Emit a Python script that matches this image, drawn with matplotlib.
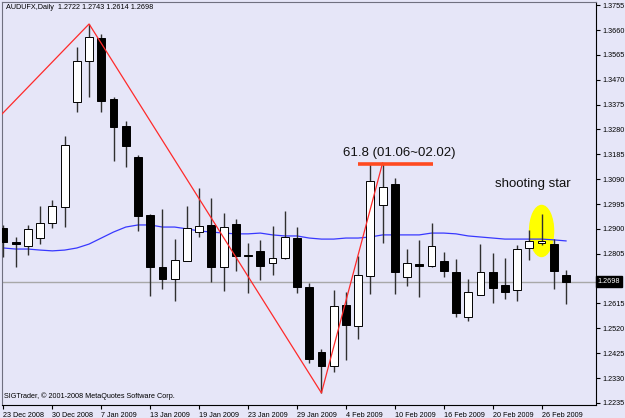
import matplotlib
matplotlib.use('Agg')
import matplotlib.pyplot as plt
from matplotlib.patches import Ellipse, Rectangle

plt.rcParams['font.family'] = ['Liberation Sans', 'DejaVu Sans']

# daily candles
opens  = [1.2904, 1.2850, 1.2835, 1.2865, 1.2923, 1.2984, 1.3385, 1.3541, 1.3629, 1.3396,
          1.3293, 1.3175, 1.2953, 1.2755, 1.2709, 1.2777, 1.2888, 1.2915, 1.2755, 1.2919,
          1.2800, 1.2816, 1.2770, 1.2789, 1.2865, 1.2678, 1.2430, 1.2376, 1.2609, 1.2529,
          1.2720, 1.2991, 1.3072, 1.2716, 1.2766, 1.2758, 1.2777, 1.2735, 1.2564, 1.2648,
          1.2735, 1.2686, 1.2667, 1.2827, 1.2846, 1.2842, 1.2722]
highs  = [1.2915, 1.2869, 1.2915, 1.2988, 1.3010, 1.3255, 1.3595, 1.3683, 1.3645, 1.3404,
          1.3312, 1.3182, 1.2957, 1.2976, 1.2861, 1.2988, 1.3056, 1.3018, 1.2961, 1.2938,
          1.2846, 1.2858, 1.2911, 1.2968, 1.2907, 1.2693, 1.2441, 1.2667, 1.2659, 1.2797,
          1.3148, 1.3152, 1.3095, 1.2823, 1.2858, 1.2923, 1.2812, 1.2785, 1.2709, 1.2842,
          1.2808, 1.2789, 1.2839, 1.2896, 1.2957, 1.2861, 1.2743]
lows   = [1.2793, 1.2755, 1.2800, 1.2842, 1.2904, 1.2907, 1.3347, 1.3404, 1.3347, 1.3159,
          1.3137, 1.2892, 1.2644, 1.2670, 1.2625, 1.2777, 1.2869, 1.2697, 1.2663, 1.2739,
          1.2655, 1.2705, 1.2724, 1.2785, 1.2655, 1.2388, 1.2273, 1.2353, 1.2399, 1.2479,
          1.2651, 1.2846, 1.2651, 1.2682, 1.2640, 1.2755, 1.2716, 1.2564, 1.2548, 1.2648,
          1.2617, 1.2632, 1.2625, 1.2781, 1.2839, 1.2670, 1.2614]
closes = [1.2850, 1.2842, 1.2900, 1.2923, 1.2988, 1.3221, 1.3541, 1.3633, 1.3389, 1.3289,
          1.3217, 1.2949, 1.2755, 1.2709, 1.2781, 1.2904, 1.2911, 1.2755, 1.2907, 1.2797,
          1.2797, 1.2758, 1.2789, 1.2869, 1.2678, 1.2403, 1.2376, 1.2606, 1.2533, 1.2724,
          1.3083, 1.3060, 1.2735, 1.2770, 1.2758, 1.2835, 1.2739, 1.2579, 1.2659, 1.2735,
          1.2674, 1.2659, 1.2823, 1.2854, 1.2854, 1.2739, 1.2698]
ma     = [1.2827, 1.2823, 1.2823, 1.2819, 1.2816, 1.2819, 1.2827, 1.2842, 1.2865, 1.2888,
          1.2907, 1.2915, 1.2915, 1.2907, 1.2907, 1.2900, 1.2892, 1.2888, 1.2884, 1.2881,
          1.2881, 1.2884, 1.2877, 1.2873, 1.2873, 1.2865, 1.2861, 1.2861, 1.2865, 1.2865,
          1.2869, 1.2877, 1.2877, 1.2877, 1.2877, 1.2884, 1.2884, 1.2881, 1.2873, 1.2869,
          1.2865, 1.2861, 1.2861, 1.2861, 1.2861, 1.2858, 1.2854]

date_idx    = [0, 4, 8, 12, 16, 20, 24, 28, 32, 36, 40, 44]
date_labels = ['23 Dec 2008', '30 Dec 2008', '7 Jan 2009', '13 Jan 2009', '19 Jan 2009',
               '23 Jan 2009', '29 Jan 2009', '4 Feb 2009', '10 Feb 2009', '16 Feb 2009',
               '20 Feb 2009', '26 Feb 2009']
price_ticks = [1.2235, 1.2330, 1.2425, 1.2520, 1.2615, 1.2710, 1.2805, 1.2900, 1.2995,
               1.3090, 1.3185, 1.3280, 1.3375, 1.3470, 1.3565, 1.3660, 1.3755]

zz_x = [-0.12, 7, 26, 31]
zz_y = [1.3339, 1.3683, 1.2273, 1.3152]
fib_level = 1.3148
fib_from, fib_to = 29.0, 35.1
last_price = 1.2698

BG = '#e6e6f8'
fig = plt.figure(figsize=(6.25, 4.18), dpi=100, facecolor=BG)
ax = fig.add_axes([2/625, 1 - 405/418, 594/625, 403/418], facecolor=BG)
ax.set_xlim(-0.12, 48.45)
ax.set_ylim(1.2227, 1.3767)

# yellow highlight behind the shooting star
ax.add_patch(Ellipse((44, 1.2892), 1.96, 0.0195, color='#ffff00', zorder=1))

ax.axhline(last_price, color='#a8a8a8', lw=1, zorder=1.5)
ax.plot(range(len(ma)), ma, color='#3838ff', lw=0.9, zorder=2)

w = 0.64
for i, (o, h, l, c) in enumerate(zip(opens, highs, lows, closes)):
    ax.plot([i, i], [l, h], color='#303030', lw=1, zorder=3, solid_capstyle='butt')
    bottom, top = min(o, c), max(o, c)
    fc = 'white' if c > o else 'black'
    ax.add_patch(Rectangle((i - w/2, bottom), w, max(top - bottom, 0.00025),
                           facecolor=fc, edgecolor='black', lw=0.7, zorder=4))

ax.plot(zz_x, zz_y, color='#ff2a2a', lw=0.9, zorder=5)
ax.plot([fib_from, fib_to], [fib_level, fib_level], color='#ff4a20', lw=2.6, zorder=5,
        solid_capstyle='butt')
ax.text((fib_from + fib_to) / 2 + 0.3, fib_level + 0.0018, '61.8 (01.06~02.02)',
        ha='center', va='bottom', fontsize=9.5, color='#101010', zorder=6)
ax.text(43.3, 1.3072, 'shooting star', ha='center', va='center', fontsize=9.5,
        color='#101010', zorder=6)

ax.text(0.006, 0.994, 'AUDUFX,Daily  1.2722 1.2743 1.2614 1.2698', transform=ax.transAxes,
        ha='left', va='top', fontsize=5.2, color='black')
ax.text(0.004, 0.012, 'SIGTrader, \u00a9 2001-2008 MetaQuotes Software Corp.',
        transform=ax.transAxes, ha='left', va='bottom', fontsize=5.2, color='black')

ax.yaxis.tick_right()
ax.set_yticks(price_ticks)
# the 1.2710 label sits under the last-price box
ax.set_yticklabels(['' if abs(p - 1.2710) < 1e-6 else f'{p:.4f}' for p in price_ticks])
ax.set_xticks(date_idx)
ax.set_xticklabels(date_labels, ha='left')
ax.tick_params(axis='both', labelsize=5.2, length=3, width=0.8, pad=1.5, colors='black')
ax.tick_params(axis='x', pad=2)

ax.text(1.003, last_price, f'{last_price:.4f}', transform=ax.get_yaxis_transform(),
        ha='left', va='center', fontsize=5.2, color='white', zorder=10, clip_on=False,
        bbox=dict(boxstyle='square,pad=0.25', facecolor='black', edgecolor='black'))

for side in ['left', 'top']:
    ax.spines[side].set_color('#707080')
for side in ['right', 'bottom']:
    ax.spines[side].set_color('black')

fig.savefig('out.png', dpi=100, facecolor=BG)
